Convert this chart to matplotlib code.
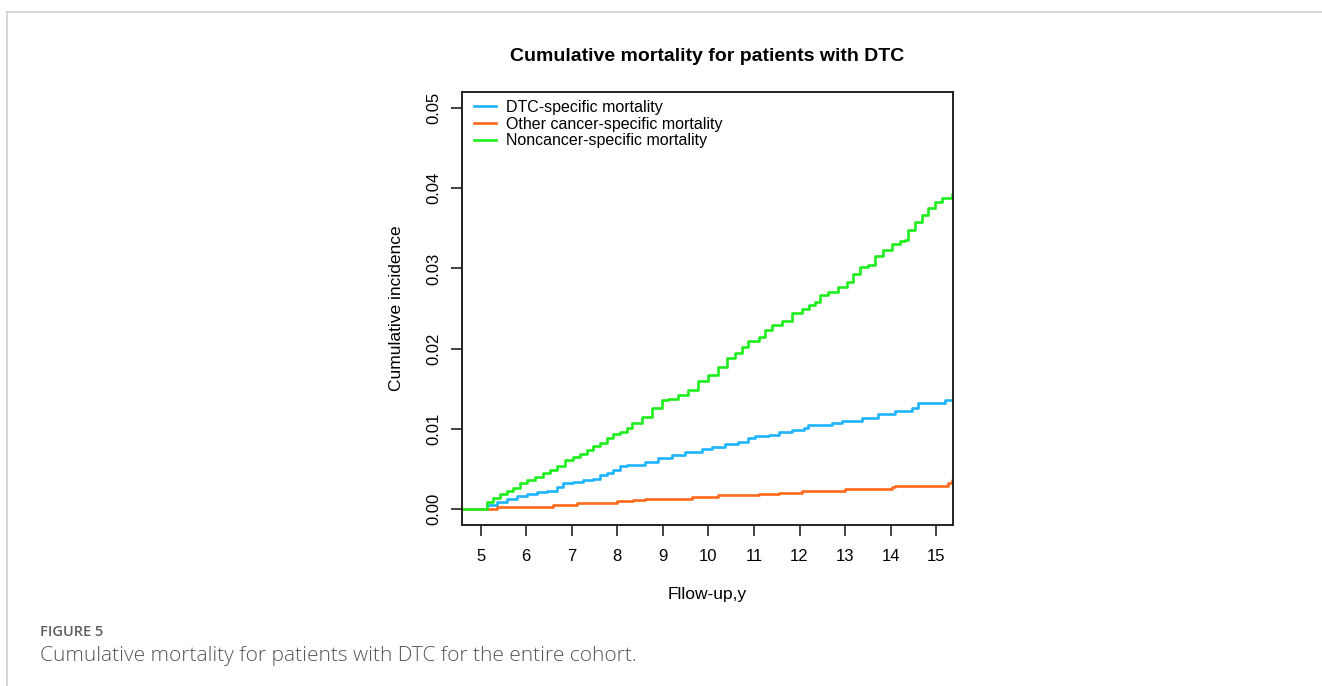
import matplotlib.pyplot as plt
from matplotlib.lines import Line2D

plt.rcParams['font.family'] = ['Liberation Sans', 'DejaVu Sans']

# curvas de incidencia acumulada
years_dtc = [4.59, 5.00, 5.13, 5.35, 5.57, 5.79, 6.01, 6.23, 6.45, 6.67, 6.81, 7.03, 7.25, 7.47,
             7.62, 7.77, 7.91, 8.06, 8.21, 8.61, 8.90, 9.20, 9.49, 9.85, 10.07, 10.37, 10.66,
             10.88, 11.02, 11.32, 11.54, 11.83, 12.09, 12.19, 12.71, 12.93, 13.37, 13.73, 14.10,
             14.47, 14.61, 15.20, 15.37]
inc_dtc = [0.0, 0.0, 0.0005, 0.0009, 0.0013, 0.0016, 0.0019, 0.0021, 0.0023, 0.0028, 0.0032,
           0.0034, 0.0036, 0.0037, 0.0042, 0.0045, 0.0049, 0.0053, 0.0055, 0.0059, 0.0063, 0.0067,
           0.0071, 0.0075, 0.0077, 0.0081, 0.0083, 0.0088, 0.0091, 0.0092, 0.0096, 0.0098, 0.0101,
           0.0105, 0.0107, 0.0110, 0.0114, 0.0118, 0.0122, 0.0126, 0.0132, 0.0136, 0.0136]

years_other = [4.59, 5.00, 5.35, 6.01, 6.59, 7.11, 7.55, 8.00, 8.35, 8.61, 9.05, 9.63, 10.22,
               11.10, 11.54, 12.05, 12.19, 13.00, 14.03, 14.10, 15.27, 15.35, 15.37]
inc_other = [0.0, 0.0, 0.0002, 0.0003, 0.0005, 0.0007, 0.0008, 0.0010, 0.0011, 0.0012, 0.0013,
             0.0015, 0.0017, 0.0019, 0.0020, 0.0022, 0.0023, 0.0025, 0.0028, 0.0029, 0.0033,
             0.0036, 0.0036]

years_non = [4.59, 5.00, 5.13, 5.28, 5.42, 5.57, 5.72, 5.86, 6.01, 6.19, 6.37, 6.52, 6.67, 6.85,
             7.03, 7.18, 7.33, 7.47, 7.62, 7.77, 7.91, 8.06, 8.21, 8.32, 8.54, 8.76, 8.98, 9.12,
             9.34, 9.56, 9.78, 10.00, 10.22, 10.40, 10.59, 10.73, 10.88, 11.10, 11.24, 11.39,
             11.61, 11.83, 12.05, 12.20, 12.34, 12.45, 12.63, 12.85, 13.04, 13.18, 13.33, 13.51,
             13.66, 13.84, 14.03, 14.21, 14.32, 14.39, 14.54, 14.69, 14.83, 14.98, 15.13, 15.35,
             15.37]
inc_non = [0.0, 0.0, 0.0009, 0.0014, 0.0019, 0.0023, 0.0026, 0.0032, 0.0036, 0.0040, 0.0045,
           0.0049, 0.0053, 0.0061, 0.0065, 0.0069, 0.0074, 0.0079, 0.0082, 0.0088, 0.0094, 0.0096,
           0.0101, 0.0107, 0.0115, 0.0126, 0.0136, 0.0137, 0.0142, 0.0148, 0.0159, 0.0167, 0.0177,
           0.0188, 0.0194, 0.0202, 0.0209, 0.0215, 0.0223, 0.0229, 0.0234, 0.0244, 0.0249, 0.0254,
           0.0258, 0.0267, 0.0271, 0.0277, 0.0283, 0.0293, 0.0302, 0.0304, 0.0315, 0.0323, 0.0330,
           0.0334, 0.0335, 0.0348, 0.0358, 0.0367, 0.0375, 0.0383, 0.0388, 0.0393, 0.0393]

labels = ['DTC-specific mortality', 'Other cancer-specific mortality', 'Noncancer-specific mortality']
colores = ['#1EB4FF', '#FF6A1A', '#1EEE1E']

xticks = list(range(5, 16))
yticks = [0.00, 0.01, 0.02, 0.03, 0.04, 0.05]

fig = plt.figure(figsize=(13.22, 6.86), dpi=100)
ax = fig.add_axes([462 / 1322, 1 - 525 / 686, (953 - 462) / 1322, (525 - 92) / 686])

ax.step(years_dtc, inc_dtc, where='post', color=colores[0], lw=1.9, label=labels[0])
ax.step(years_other, inc_other, where='post', color=colores[1], lw=1.9, label=labels[1])
ax.step(years_non, inc_non, where='post', color=colores[2], lw=1.9, label=labels[2])

ax.set_xlim(4.59, 15.37)
ax.set_ylim(-0.002, 0.052)
ax.set_xticks(xticks)
ax.set_yticks(yticks)
ax.set_yticklabels(['%.2f' % v for v in yticks], rotation=90, va='center')
ax.tick_params(axis='both', direction='out', length=8, width=1.2, labelsize=12, color='#222222')
ax.tick_params(axis='x', pad=9)
ax.tick_params(axis='y', pad=7)
for s in ax.spines.values():
    s.set_linewidth(1.4)
    s.set_color('#222222')

ax.set_xlabel('Fllow-up,y', fontsize=12.5, labelpad=17)
ax.set_ylabel('Cumulative incidence', fontsize=12.5, labelpad=16)
ax.set_title('Cumulative mortality for patients with DTC', fontsize=14, fontweight='bold', pad=22)

ax.legend(loc='upper left', frameon=False, fontsize=11.5, handlelength=1.4, handletextpad=0.6,
          labelspacing=0.1, borderaxespad=0.1, bbox_to_anchor=(0.008, 1.0))

# marco gris de la figura
fig.add_artist(Line2D([7 / 1322, 7 / 1322], [0, 1 - 12 / 686], color='#d0d0d0', lw=1.2))
fig.add_artist(Line2D([7 / 1322, 1], [1 - 12 / 686, 1 - 12 / 686], color='#d0d0d0', lw=1.2))

fig.text(40 / 1322, 1 - 632 / 686, 'FIGURE 5', fontsize=10.5, color='#5e5e5e', fontweight='semibold',
         family=['Open Sans', 'DejaVu Sans'], va='center')
fig.text(40 / 1322, 1 - 656 / 686, 'Cumulative mortality for patients with DTC for the entire cohort.',
         fontsize=15, color='#555555', fontweight='light', family=['Open Sans', 'DejaVu Sans'],
         va='center')

fig.savefig('out.png', dpi=100)
